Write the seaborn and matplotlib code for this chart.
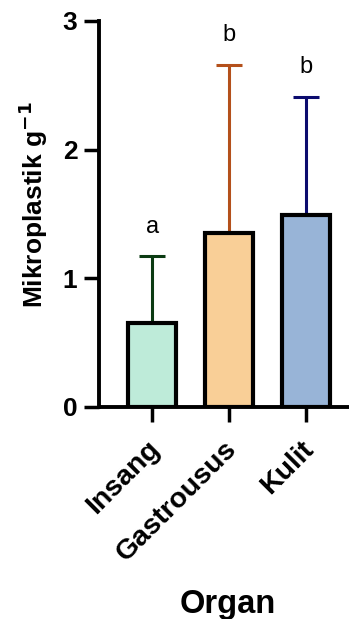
import pandas as pd
import matplotlib
matplotlib.use("Agg")
import matplotlib.pyplot as plt
import matplotlib.transforms as mtransforms
import seaborn as sns

# data
organs = ["Insang", "Gastrousus", "Kulit"]
means = [0.65, 1.35, 1.49]
sds = [0.52, 1.31, 0.92]
letters = ["a", "b", "b"]

fill_colors = ["#BEEBD9", "#F9CF97", "#98B4D7"]
err_colors = ["#0B3B12", "#B4501B", "#0B0B6E"]

df = pd.DataFrame({"organ": organs, "mean": means, "sd": sds})

sns.set_theme(style="ticks")
plt.rcParams["font.family"] = ["Liberation Sans", "DejaVu Sans"]
plt.rcParams["text.color"] = "black"
plt.rcParams["axes.labelcolor"] = "black"
plt.rcParams["xtick.color"] = "black"
plt.rcParams["ytick.color"] = "black"

fig = plt.figure(figsize=(3.49, 6.19), dpi=100)
ax = fig.add_axes([99 / 349, 1 - 407 / 619, 1 - 99 / 349, (407 - 21) / 619])

sns.barplot(data=df, x="organ", y="mean", hue="organ", palette=fill_colors,
            saturation=1, width=0.62, edgecolor="black", linewidth=3,
            errorbar=None, legend=False, ax=ax, zorder=3)

# upward-only error bars, coloured per organ
for i, row in df.iterrows():
    ax.errorbar(i, row["mean"], yerr=[[0], [row["sd"]]], fmt="none",
                ecolor=err_colors[i], elinewidth=2.2, capsize=9.5,
                capthick=2.2, zorder=2)
    ax.annotate(letters[i], (i, row["mean"] + row["sd"]), xytext=(0, 13.5),
                textcoords="offset points", ha="center", va="bottom",
                fontsize=17, color="black")

ax.set_ylim(0, 3)
ax.set_yticks([0, 1, 2, 3])
ax.set_xlim(-0.69, 2.56)
ax.set_ylabel("Mikroplastik g$^{\\mathbf{-1}}$", fontsize=19, fontweight="bold")
ax.yaxis.set_label_coords(-0.197, 0.523)
ax.set_xlabel("Organ", fontsize=23.5, fontweight="bold", va="baseline")
ax.xaxis.set_label_coords(0.516, -(613 - 407) / 386)
ax.tick_params(axis="both", length=11, width=2.5, labelsize=19, pad=4.5)
ax.tick_params(axis="x", labelsize=20.5, pad=10)
for lab in ax.get_yticklabels() + ax.get_xticklabels():
    lab.set_fontweight("bold")
plt.setp(ax.get_xticklabels(), rotation=45, ha="right", rotation_mode="anchor")
shift = mtransforms.ScaledTranslation(-5 / 100, 0, fig.dpi_scale_trans)
for lab in ax.get_xticklabels():
    lab.set_transform(lab.get_transform() + shift)

sns.despine(ax=ax)
for s in ["left", "bottom"]:
    ax.spines[s].set_linewidth(2.8)
    ax.spines[s].set_color("black")
ax.spines["bottom"].set_capstyle("butt")
ax.grid(False)

fig.savefig("out.png", dpi=100)
